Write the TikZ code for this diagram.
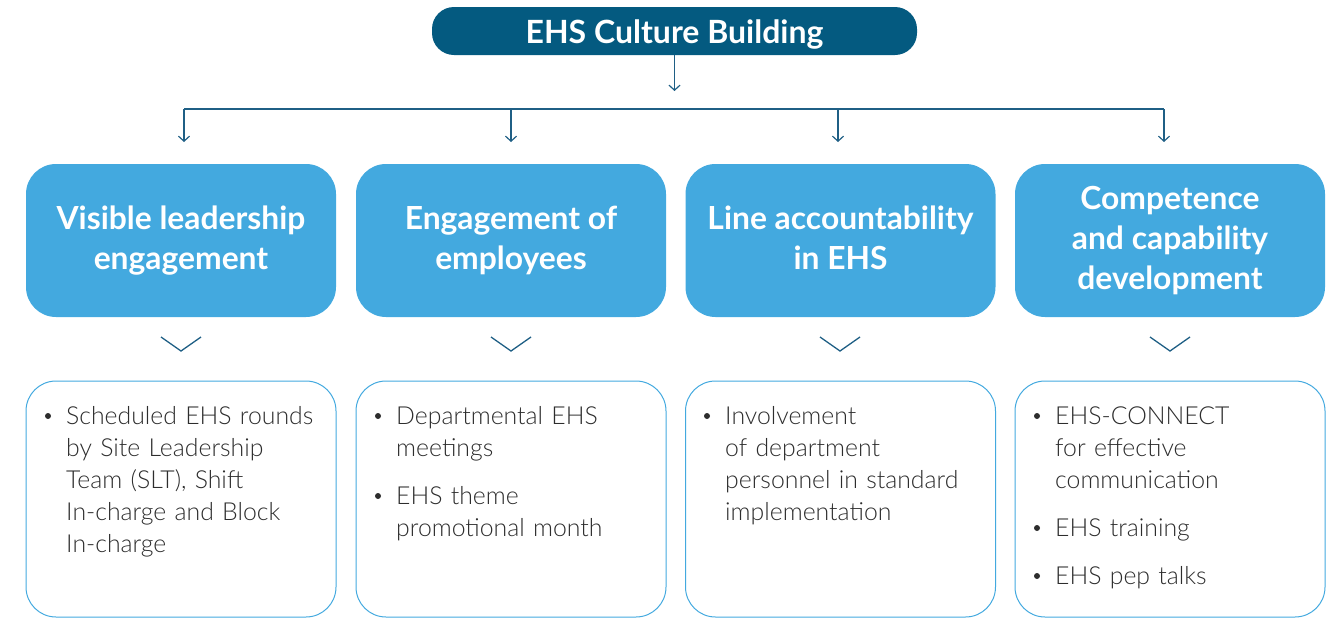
\documentclass[tikz,border=0pt]{standalone}
\usepackage{fontspec}
\setmainfont{Lato}
\newfontfamily\lightfont{Lato Light}
\usetikzlibrary{arrows.meta}
\definecolor{navy}{RGB}{4,90,128}
\definecolor{sky}{RGB}{67,169,223}
\definecolor{linec}{RGB}{31,95,133}
\definecolor{txt}{RGB}{45,45,45}
\tikzset{
  topbox/.style={fill=navy, text=white, rounded corners=22pt, minimum width=485pt, minimum height=48pt, inner sep=0pt, font=\bfseries\fontsize{32}{36}\selectfont},
  headbox/.style={fill=sky, text=white, rounded corners=30pt, minimum width=310pt, minimum height=153pt, inner sep=0pt, align=center, font=\bfseries\fontsize{31.8}{40}\selectfont},
  bodybox/.style={draw=sky, line width=1pt, rounded corners=30pt, minimum width=310pt, minimum height=236pt, inner sep=0pt},
  conn/.style={draw=linec, line width=1.2pt, -{Straight Barb[length=5pt,width=11pt,line width=1.2pt]}},
  plain/.style={draw=linec, line width=1.2pt},
  chev/.style={draw=linec, line width=1.3pt},
  itemtext/.style={anchor=base west, inner sep=0pt, text width=265pt, align=left, text=txt, font=\lightfont\fontsize{24.8}{32}\selectfont},
  dot/.style={fill=txt, draw=none}
}
\begin{document}
\begin{tikzpicture}[x=1pt,y=-1pt]
\useasboundingbox (0,0) rectangle (1339,619);
% top
\node[topbox, text height=28pt, text depth=4pt] (top) at (674.5,31) {EHS Culture Building};
\coordinate (ta) at (674.5,91);
\draw[conn] (top.south) -- (ta);
% distribution line
\coordinate (l1) at (184,109);
\coordinate (l4) at (1164,109);
\coordinate (l2) at (511,109);
\coordinate (l3) at (838,109);
\draw[plain] (l1) -- (l4);
\coordinate (a1) at (184,142);
\coordinate (a2) at (511,142);
\coordinate (a3) at (838,142);
\coordinate (a4) at (1164,142);
\draw[conn] (l1) -- (a1);
\draw[conn] (l2) -- (a2);
\draw[conn] (l3) -- (a3);
\draw[conn] (l4) -- (a4);
% headers
\node[headbox] (h1) at (181,240.5) {Visible leadership\\engagement};
\node[headbox] (h2) at (511,240.5) {Engagement of\\employees};
\node[headbox] (h3) at (840.5,240.5) {Line accountability\\in EHS\rule[-6pt]{0pt}{6pt}};
\node[headbox] (h4) at (1170,240.5) {Competence\\and capability\\development};
% chevrons
\foreach \c in {181,511,840,1170}{
  \draw[chev] (\c-20,337) -- (\c,351) -- (\c+20,337);
}
% body boxes
\node[bodybox] (b1) at (181,499) {};
\node[bodybox] (b2) at (511,499) {};
\node[bodybox] (b3) at (840.5,499) {};
\node[bodybox] (b4) at (1170,499) {};
% box 1
\fill[dot] (48,416) circle (3pt);
\node[itemtext] (t11) at (66,424) {Scheduled EHS rounds\\by Site Leadership\\Team (SLT), Shift\\In-charge and Block\\In-charge};
% box 2
\fill[dot] (378,416) circle (3pt);
\node[itemtext] (t21) at (396,424) {Departmental EHS\\meetings};
\fill[dot] (378,496) circle (3pt);
\node[itemtext] (t22) at (396,504) {EHS theme\\promotional month};
% box 3
\fill[dot] (707,416) circle (3pt);
\node[itemtext] (t31) at (725,424) {Involvement\\of department\\personnel in standard\\implementation};
% box 4
\fill[dot] (1037,416) circle (3pt);
\node[itemtext] (t41) at (1055,424) {EHS-CONNECT\\for effective\\communication};
\fill[dot] (1037,528) circle (3pt);
\node[itemtext] (t42) at (1055,536) {EHS training};
\fill[dot] (1037,576) circle (3pt);
\node[itemtext] (t43) at (1055,584) {EHS pep talks};
\end{tikzpicture}
\end{document}
